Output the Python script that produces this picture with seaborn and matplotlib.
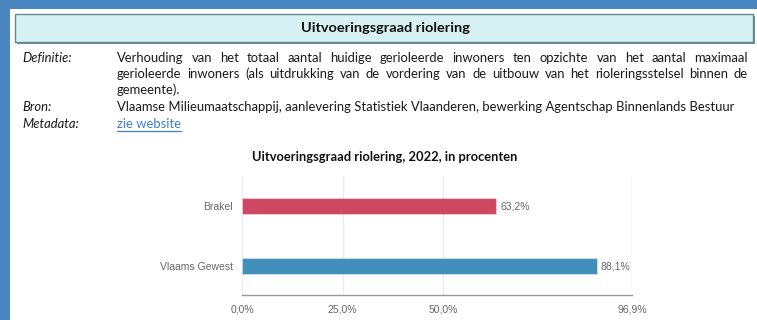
import matplotlib
matplotlib.use("Agg")
import matplotlib.pyplot as plt
from matplotlib.patches import Rectangle
import seaborn as sns
import pandas as pd

# ---- data ----
categories = ["Brakel", "Vlaams Gewest"]
values = [63.2, 88.1]
bar_colors = ["#cf4862", "#428fbb"]
axis_max = 96.9
tick_values = [0, 25, 50, 96.9]
tick_labels = ["0,0%", "25,0%", "50,0%", "96,9%"]

header_title = "Uitvoeringsgraad riolering"
chart_title = "Uitvoeringsgraad riolering, 2022, in procenten"
definition_lines = [
    "Verhouding van het totaal aantal huidige gerioleerde inwoners ten opzichte van het aantal maximaal",
    "gerioleerde inwoners (als uitdrukking van de vordering van de uitbouw van het rioleringsstelsel binnen de",
    "gemeente).",
]
source_text = "Vlaamse Milieumaatschappij, aanlevering Statistiek Vlaanderen, bewerking Agentschap Binnenlands Bestuur"
metadata_link = "zie website"
row_labels = ["Definitie:", "Bron:", "Metadata:"]

W, H = 757, 320
sns.set_theme(style="white")
plt.rcParams["font.family"] = ["Liberation Sans", "DejaVu Sans"]

fig = plt.figure(figsize=(W / 100, H / 100), dpi=100)
fig.patch.set_facecolor("white")

# full-figure layer in pixel coordinates for the page furniture
bg = fig.add_axes([0, 0, 1, 1], zorder=0)
bg.set_xlim(0, W)
bg.set_ylim(H, 0)
bg.axis("off")
renderer = fig.canvas.get_renderer()

frame_blue = "#4a87c1"
bg.add_patch(Rectangle((0, 0), W, 9, color=frame_blue, lw=0))
bg.add_patch(Rectangle((0, 0), 10, H, color=frame_blue, lw=0))

# header box with a small drop shadow
bg.add_patch(Rectangle((17, 16), 738, 28, color="#6b9091", lw=0))
bg.add_patch(Rectangle((15, 14), 738, 28, facecolor="#d6f0f4", edgecolor="#5f8b8c", lw=1.0))


def text_width(t):
    return t.get_window_extent(renderer=renderer).width


def fit_text(x, y, s, width, size0=10, **kw):
    t = bg.text(x, y, s, fontsize=size0, **kw)
    w = text_width(t)
    t.set_fontsize(size0 * width / w)
    return t


body_font = ["Lato", "DejaVu Sans"]

fit_text(385, 28.5, header_title, 168, family=body_font, fontweight="bold",
         color="#111111", ha="center", va="center")

# body font size derived from the unjustified source line
src = fit_text(117, 107, source_text, 614, family=body_font, color="#1a1a1a",
               ha="left", va="center")
body_size = src.get_fontsize()

line_y = [58, 74, 90]
left_x, right_x = 117, 748
for i, line in enumerate(definition_lines):
    words = line.split(" ")
    if i < len(definition_lines) - 1:
        arts = [bg.text(0, line_y[i], w, fontsize=body_size, family=body_font,
                        color="#1a1a1a", ha="left", va="center") for w in words]
        widths = [text_width(a) for a in arts]
        gap = (right_x - left_x - sum(widths)) / (len(words) - 1)
        x = left_x
        for a, w in zip(arts, widths):
            a.set_x(x)
            x += w + gap
    else:
        bg.text(left_x, line_y[i], line, fontsize=body_size, family=body_font,
                color="#1a1a1a", ha="left", va="center")

link = bg.text(117, 124, metadata_link, fontsize=body_size, family=body_font,
               color="#3d7fc6", ha="left", va="center")
lw_px = text_width(link)
bg.plot([117, 117 + lw_px], [131, 131], color="#3d7fc6", lw=0.9)

for lab, y in zip(row_labels, [58, 107, 124]):
    bg.text(22, y, lab, fontsize=body_size, family=body_font, style="italic",
            color="#1a1a1a", ha="left", va="center")

fit_text(385, 157, chart_title, 264, family=body_font, fontweight="bold",
         color="#111111", ha="center", va="center")

# ---- bar chart ----
ax = fig.add_axes([242 / W, 1 - 295 / H, 390 / W, 119 / H], zorder=1)
ax.patch.set_alpha(0)
df = pd.DataFrame({"gebied": categories, "waarde": values})
sns.barplot(data=df, x="waarde", y="gebied", hue="gebied", palette=bar_colors,
            orient="h", width=0.27, saturation=1, legend=False, ax=ax, zorder=3)
for p in ax.patches:
    p.set_edgecolor((1, 1, 1, 0.35))
    p.set_linewidth(0.8)

ax.set_xlim(0, axis_max)
ax.set_ylim(1.483, -0.5)
ax.set_xticks(tick_values)
ax.set_xticklabels(tick_labels)
ax.grid(axis="x", color="#ebebeb", lw=1, zorder=0)
ax.grid(axis="y", visible=False)
for side in ["top", "right", "left"]:
    ax.spines[side].set_visible(False)
ax.spines["bottom"].set_color("#999999")
ax.spines["bottom"].set_linewidth(1.0)
ax.tick_params(axis="x", length=5, width=1, color="#999999", direction="out",
               labelsize=7.5, labelcolor="#666666", pad=2)
ax.tick_params(axis="y", length=0, labelsize=7.5, labelcolor="#666666", pad=6.5)
ax.set_xlabel("")
ax.set_ylabel("")

for i, v in enumerate(values):
    ax.text(v + 1.0, i, f"{v:.1f}%".replace(".", ","), fontsize=7.5,
            color="#666666", ha="left", va="center")

fig.savefig("out.png", dpi=100)
